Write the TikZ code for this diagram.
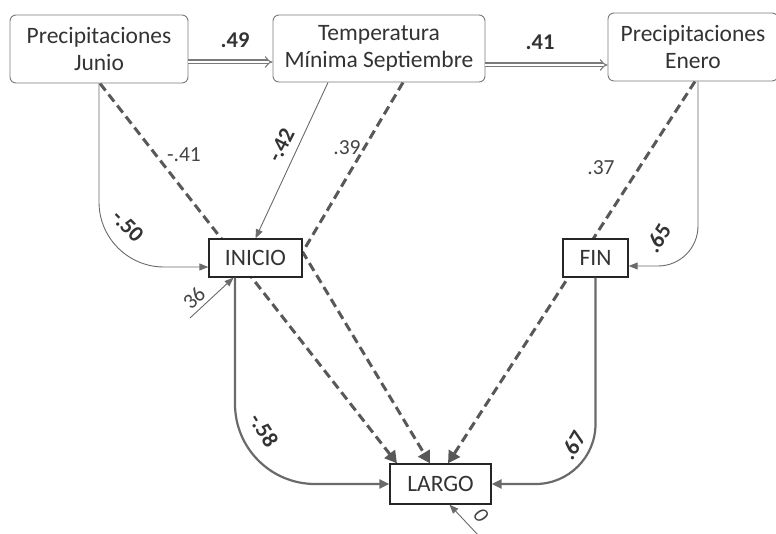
\documentclass[tikz,border=0pt]{standalone}
\usepackage{fontspec}
\setmainfont{Carlito}
\usetikzlibrary{arrows.meta,calc,backgrounds}
\definecolor{ln}{HTML}{6A6A6A}
\definecolor{dk}{HTML}{585858}
\definecolor{tx}{HTML}{333333}
\definecolor{lt}{HTML}{444444}
\definecolor{bx}{HTML}{7A7A7A}
\begin{document}
\begin{tikzpicture}[x=1pt,y=1pt,
 font=\fontsize{23.5}{27}\selectfont, text=tx,
 topbox/.style={draw=bx, fill=white, rounded corners=6pt, line width=0.9pt, align=center, inner sep=0pt},
 midbox/.style={draw=black!85, fill=white, line width=1.3pt, inner sep=0pt, minimum height=38pt},
 thinarr/.style={draw=ln, line width=0.9pt, -{Triangle[length=9pt,width=7pt]}},
 thickarr/.style={draw=ln, line width=2.2pt, -{Triangle[length=10pt,width=9pt]}},
 dsh/.style={draw=dk, line width=3pt, dash pattern=on 9pt off 5pt, -{Triangle[length=12pt,width=13pt]}},
 dbl/.style={draw=bx, line width=1.1pt, double=white, double distance=2.8pt, -{Implies[length=6pt]}},
 lb/.style={font=\fontsize{22.5}{22.5}\selectfont\bfseries, text=tx, inner sep=0pt},
 lr/.style={font=\fontsize{21.5}{21.5}\selectfont, text=lt, inner sep=0pt},
]
\useasboundingbox (0,0) rectangle (776,-534);

% top boxes
\node[topbox, minimum width=178pt, minimum height=68pt] (PJ) at (99,-49) {Precipitaciones\\Junio};
\node[topbox, minimum width=212pt, minimum height=67pt] (TM) at (379,-48.5) {Temperatura\\Mínima Septiembre};
\node[topbox, minimum width=170pt, minimum height=68pt] (PE) at (693,-47) {Precipitaciones\\Enero};

% middle and bottom boxes
\node[midbox, minimum width=93pt] (IN) at (255.5,-258) {INICIO};
\node[midbox, minimum width=65pt] (FI) at (595.5,-258) {FIN};
\node[midbox, minimum width=101pt, minimum height=40pt] (LA) at (440.5,-484) {LARGO};

% error sources
\coordinate (e1) at (190,-318);
\coordinate (e2) at (479,-536);

% double arrows between top boxes
\draw[dbl] ([yshift=-13pt]PJ.east) -- ([yshift=-13pt]PJ.east -| TM.west);
\draw[dbl] ([yshift=-16.5pt]TM.east) -- ([yshift=-16.5pt]TM.east -| PE.west);
\node[lb] (l49) at (235,-40) {.49};
\node[lb] (l41) at (540,-42) {.41};

\begin{pgfonlayer}{background}
% dashed paths
\draw[dsh] ([xshift=1pt]PJ.south) -- ([xshift=-43.5pt]LA.north);
\draw[dsh] ([xshift=24pt]TM.south) -- ([yshift=6pt]IN.east) -- ([xshift=-10.5pt]LA.north);
\draw[dsh] ([xshift=2pt]PE.south) -- ([xshift=7.5pt]LA.north);
\end{pgfonlayer}

% thin solid paths
\draw[thinarr, rounded corners=65pt] (PJ.south) |- ([yshift=-9pt]IN.west);
\draw[thinarr] ([xshift=-51pt]TM.south) -- (IN.north);
\draw[thinarr, rounded corners=40pt] ([xshift=5pt]PE.south) |- ([yshift=-8pt]FI.east);
\draw[thinarr] (e1) -- ([xshift=-22pt]IN.south);
\draw[thinarr] (e2) -- ([xshift=9pt]LA.south);

% thick solid paths
\draw[thickarr, rounded corners=80pt] ([xshift=-20.5pt]IN.south) |- (LA.west);
\draw[thickarr, rounded corners=60pt] (FI.south) |- (LA.east);

% labels
\node[lr] (lm41) at (184,-155) {-.41};
\node[lb, rotate=63] (lm42) at (281,-145) {-.42};
\node[lr] (l39) at (347,-148) {.39};
\node[lb, rotate=-45] (lm50) at (128,-226) {-.50};
\node[lr] (l37) at (601,-168) {.37};
\node[lb, rotate=58] (l65) at (658,-238) {.65};
\node[lb, rotate=-58] (lm58) at (264,-430) {-.58};
\node[lb, rotate=60] (l67) at (573,-445) {.67};
\node[lr, rotate=45] (l36) at (194,-298) {36};
\node[lr, rotate=-50] (l0) at (481,-515) {\itshape 0};
\end{tikzpicture}
\end{document}
